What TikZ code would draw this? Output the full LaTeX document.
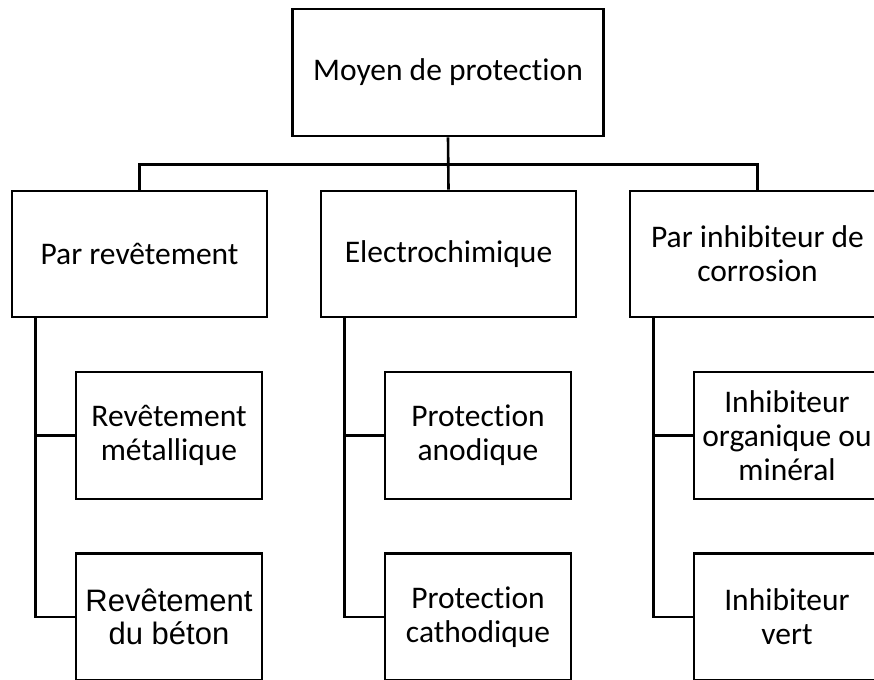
\documentclass[tikz,border=0pt]{standalone}
\usepackage{fontspec}
\setmainfont{Carlito}[Ligatures=NoCommon]
\newfontfamily\arialfont{Liberation Sans}
\usetikzlibrary{positioning}

\begin{document}
\begin{tikzpicture}[
    x=1pt, y=-1pt,
    box/.style={
        rectangle,
        draw,
        line width=2.6pt,
        minimum width={255pt},
        minimum height={126pt},
        inner sep=0pt,
        align=center,
        font=\fontsize{31.5}{34}\selectfont
    },
    subbox/.style={
        box,
        minimum width={186pt},
        minimum height={127pt}
    },
    link/.style={line width=2.6pt}
]
\useasboundingbox (0, 0) rectangle (874, 679);

\node [box, minimum width={311pt}, minimum height={127pt}] (b1) at (448, 72.5) {Moyen de protection};

\node [box] (b2) at (139.5, 254) {Par revêtement};
\node [box] (b3) at (448.5, 254) {Electrochimique};
\node [box] (b4) at (757.5, 254) {Par inhibiteur de\\corrosion};

\node [subbox] (b5) at (169, 435.5) {Revêtement\\métallique};
\node [subbox, font=\arialfont\fontsize{31}{33}\selectfont] (b6) at (169, 617) {Revêtement\\du béton};

\node [subbox] (b7) at (478, 435.5) {Protection\\anodique};
\node [subbox] (b8) at (478, 617) {Protection\\cathodique};

\node [subbox] (b9) at (787, 435.5) {Inhibiteur\\organique ou\\minéral};
\node [subbox] (b10) at (787, 617) {Inhibiteur\\vert};

\draw [link] (b1.south) -- (b3.north);
\draw [link] (b2.north) |- ([yshift=-27pt]b1.south) -| (b4.north);

\coordinate (c2) at ([xshift=25pt]b2.south west);
\coordinate (c3) at ([xshift=25pt]b3.south west);
\coordinate (c4) at ([xshift=25pt]b4.south west);

\draw [link] (c2) |- (b6.west);
\draw [link] (c2 |- b5.west) -- (b5.west);

\draw [link] (c3) |- (b8.west);
\draw [link] (c3 |- b7.west) -- (b7.west);

\draw [link] (c4) |- (b10.west);
\draw [link] (c4 |- b9.west) -- (b9.west);
\end{tikzpicture}
\end{document}
